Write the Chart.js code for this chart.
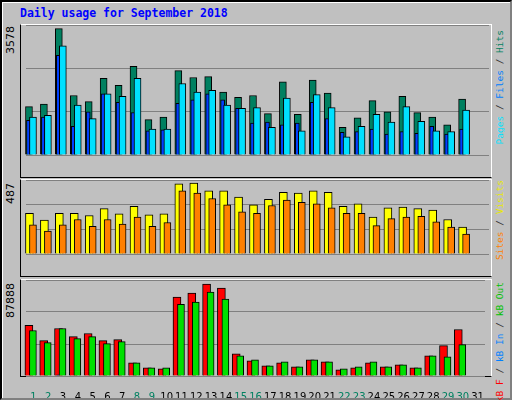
<!DOCTYPE html>
<html>
<head>
<meta charset="utf-8">
<script src="https://cdn.jsdelivr.net/npm/chart.js@4"></script>
<style>
body { margin:0; width:512px; height:400px; background:#c0c0c0; font-family:"DejaVu Sans Mono", monospace; overflow:hidden; }
#frame { position:absolute; left:0; top:0; width:508px; height:396px; border:2px solid; border-color:#000 #808080 #808080 #000; box-shadow: inset 1px 1px 0 #fff; }
#title { position:absolute; left:20px; top:6px; color:#0000ff; font-weight:bold; font-size:11.5px; }
.panel { position:absolute; left:20px; width:470px; border-left:1px solid #000; border-bottom:1px solid #000; border-top:1px solid #fff; border-right:1px solid #fff; }
.max { position:absolute; font-family:"DejaVu Sans", sans-serif; font-size:11px; writing-mode:vertical-rl; transform:rotate(180deg); left:4px; }
.leg { position:absolute; left:494px; font-size:9.5px; writing-mode:vertical-rl; transform:rotate(180deg); white-space:nowrap; }
</style>
</head>
<body>
<div id="frame"></div>
<div id="title">Daily usage for September 2018</div>

<div class="max" style="top:26px">3578</div>
<div class="max" style="top:183px">487</div>
<div class="max" style="top:283px">87888</div>

<div class="leg" style="top:30px"><span style="color:#00e0ff">Pages</span><span style="color:#303030"> / </span><span style="color:#0080ff">Files</span><span style="color:#303030"> / </span><span style="color:#008060">Hits</span></div>
<div class="leg" style="top:180px"><span style="color:#ff8000">Sites</span><span style="color:#303030"> / </span><span style="color:#e8e800">Visits</span></div>
<div class="leg" style="top:282px"><span style="color:#ff0000">kB F</span><span style="color:#303030"> / </span><span style="color:#0080ff">kB In</span><span style="color:#303030"> / </span><span style="color:#00c000">kB Out</span></div>

<div class="panel" style="top:24px;height:152px"><canvas id="c1"></canvas></div>
<div class="panel" style="top:179px;height:96px"><canvas id="c2"></canvas></div>
<div style="position:absolute;left:20px;top:279px;width:470px;height:96px;border-left:1px solid #000;border-bottom:1px solid #000;border-top:1px solid #fff;border-right:1px solid #fff"></div>
<div style="position:absolute;left:21px;top:280px;width:470px;height:118px"><canvas id="c3"></canvas></div>

<script>
const days = Array.from({length: 31}, (_, i) => String(i + 1));
const weekendDays = [1, 2, 8, 9, 15, 16, 22, 23, 29, 30];

const hits  = [1368,1441,3578,1684,1514,2169,1975,2509,1004,1077,2388,2194,2218,1781,1635,1684,1174,2072,1149,2121,1757,785,1052,1538,1222,1659,1198,1077,858,1587,0];
const files = [979,1077,2825,810,1222,1732,1490,1198,688,712,1465,1562,1732,1562,1320,907,931,858,907,1490,1028,640,664,737,591,664,615,810,591,737,0];
const pages = [1077,1125,3092,1417,1028,1732,1659,2169,737,737,2024,1781,1829,1417,1320,1344,785,1611,688,1708,1344,518,810,1149,931,1368,955,688,664,1271,0];

const visits = [280,232,280,280,264,312,275,328,269,275,482,487,434,434,391,338,375,423,418,434,423,328,344,253,317,322,312,301,237,184,0];
const sites  = [200,158,200,237,190,237,205,253,190,216,434,418,381,338,290,280,333,370,354,344,317,280,280,195,243,253,259,221,184,136,0];

const kbF   = [48285,33800,45388,37662,40559,33800,34765,12554,7726,6760,75325,79187,87878,84016,21245,14486,9657,12554,8691,15451,13520,5794,7726,12554,8691,10623,7726,19314,28971,44422,0];
const kbIn  = [0,0,1200,0,0,0,0,0,0,0,0,0,0,0,0,0,0,0,0,0,0,0,0,0,0,0,0,0,0,0,0];
const kbOut = [43457,31868,45388,35731,37662,30902,32834,12554,7726,7726,68565,70496,80153,73393,19314,15451,9657,13520,8691,15451,13520,6760,8691,13520,8691,10623,7726,19314,18348,29937,0];

const axisMax = [3682, 508, 91700];

// shift each dataset sideways so the bars overlap like the original
const shiftPlugin = {
    id: 'shift',
    beforeDatasetDraw(chart, args) {
        chart.ctx.save();
        chart.ctx.translate(args.meta._dataset.dx || 0, 0);
    },
    afterDatasetDraw(chart) { chart.ctx.restore(); }
};

function bar(data, color, w, dx, order) {
    return { data, backgroundColor: color, borderColor: '#000', borderWidth: 1,
             barThickness: w, dx, order, grouped: false, borderSkipped: 'bottom' };
}

function makeChart(id, datasets, max, showX) {
    new Chart(document.getElementById(id), {
        type: 'bar',
        data: { labels: days, datasets },
        options: {
            responsive: true, maintainAspectRatio: false, animation: false,
            layout: { padding: { left: 5, right: 2, top: 0, bottom: 0 } },
            plugins: { legend: { display: false }, tooltip: { enabled: false } },
            scales: {
                x: {
                    display: showX,
                    grid: { display: false }, border: { display: false },
                    afterFit: axis => { axis.height = 22; },
                    ticks: {
                        padding: 7, maxRotation: 0, autoSkip: false,
                        font: { family: 'DejaVu Sans', size: 10 },
                        color: ctx => weekendDays.includes(ctx.index + 1) ? '#008060' : '#000'
                    }
                },
                y: {
                    min: 0, max, ticks: { display: false, stepSize: max / 3 },
                    grid: { color: '#808080', drawTicks: false, lineWidth: 1 },
                    border: { display: false }
                }
            }
        },
        plugins: [shiftPlugin]
    });
}

makeChart('c1', [
    bar(hits, '#008060', 7, -4.5, 3),
    bar(files, '#0040ff', 4, -5, 2),
    bar(pages, '#00e0ff', 7, -0.5, 1)
], axisMax[0], false);

makeChart('c2', [
    bar(visits, '#ffff00', 8, -4, 2),
    bar(sites, '#ff8000', 7, -0.5, 1)
], axisMax[1], false);

makeChart('c3', [
    bar(kbF, '#ff0000', 8, -4.5, 3),
    bar(kbIn, '#0080ff', 3, -5, 2),
    bar(kbOut, '#00e000', 7, -0.5, 1)
], axisMax[2], true);
</script>
</body>
</html>
